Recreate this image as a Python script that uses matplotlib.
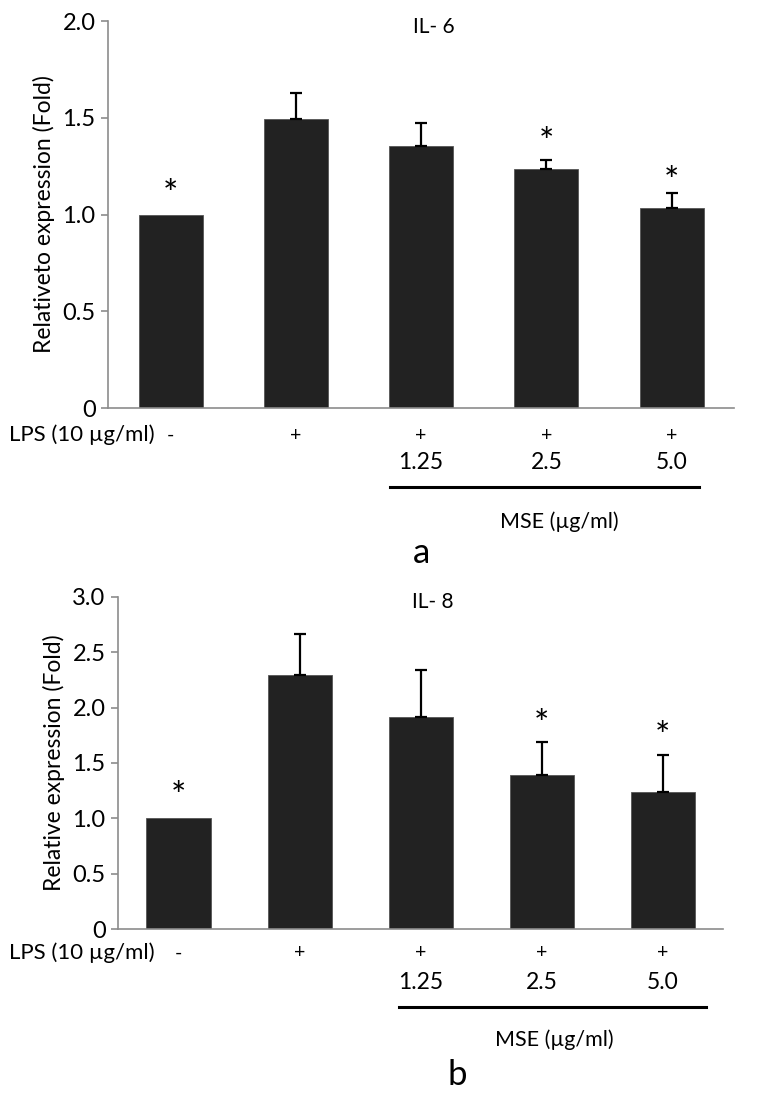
import matplotlib.pyplot as plt

plt.rcParams['font.family'] = ['Lato', 'DejaVu Sans']

# data
lps_marks = ['-', '+', '+', '+', '+']
mse_doses = ['', '', '1.25', '2.5', '5.0']

il6_mean = [1.0, 1.495, 1.355, 1.237, 1.035]
il6_err = [0.0, 0.135, 0.12, 0.045, 0.076]
il6_star = [1.15, None, None, 1.42, 1.22]   # y of the * marks

il8_mean = [1.0, 2.295, 1.918, 1.391, 1.24]
il8_err = [0.0, 0.37, 0.42, 0.30, 0.33]
il8_star = [1.285, None, None, 1.93, 1.82]

BAR = '#222222'
SPINE = '#8c8c8c'

fig = plt.figure(figsize=(7.75, 11.01), dpi=100)


def draw_panel(rect, mean, err, star, ymax, step, ylabel, title, letter, width,
               rows, line_x):
    ax = fig.add_axes(rect)
    x = list(range(len(mean)))
    ax.bar(x, mean, width=width, color=BAR, edgecolor='#555555', linewidth=0.6)
    errx = [xi for xi, e in zip(x, err) if e > 0]
    erry = [m for m, e in zip(mean, err) if e > 0]
    erre = [e for e in err if e > 0]
    ax.errorbar(errx, erry, yerr=[[0] * len(erre), erre], fmt='none',
                ecolor='black', elinewidth=1.6, capsize=4, capthick=1.6)
    # asterisk glyph sits ~15pt above its baseline, shift so its middle lands on s
    for xi, s in zip(x, star):
        if s is not None:
            ax.annotate('*', xy=(xi, s), xytext=(0, -15),
                        textcoords='offset points', ha='center',
                        va='baseline', fontsize=26)

    ax.set_xlim(-0.5, 4.5)
    ax.set_ylim(0, ymax)
    ticks = [i * step for i in range(int(round(ymax / step)) + 1)]
    ax.set_yticks(ticks)
    ax.set_yticklabels(['0'] + [f'{t:.1f}' for t in ticks[1:]])
    ax.set_xticks([])
    for side in ['top', 'right']:
        ax.spines[side].set_visible(False)
    for side in ['left', 'bottom']:
        ax.spines[side].set_color(SPINE)
        ax.spines[side].set_linewidth(1.2)
    ax.tick_params(axis='y', colors=SPINE, labelcolor='black', labelsize=17,
                   length=5, width=1.2, pad=4)
    ax.set_ylabel(ylabel, fontsize=16.5, labelpad=5)
    ax.text(2.1, ymax * 0.985, title, ha='center', va='center', fontsize=15)

    tr = ax.get_xaxis_transform()
    y_lps, y_dose, y_line, y_mse, y_letter, lps_x = rows
    for xi, mk, d in zip(x, lps_marks, mse_doses):
        ax.text(xi, y_lps, mk, transform=tr, ha='center', va='center',
                fontsize=14, clip_on=False)
        if d:
            ax.text(xi, y_dose, d, transform=tr, ha='center', va='center',
                    fontsize=16.5, clip_on=False)
    ax.plot(line_x, [y_line, y_line], transform=tr, color='black',
            linewidth=2.2, clip_on=False)
    ax.text(3.1, y_mse, 'MSE (µg/ml)', transform=tr, ha='center', va='center',
            fontsize=15.5, clip_on=False)
    ax.text(letter[0], y_letter, letter[1], transform=tr, ha='center',
            va='center', fontsize=25, clip_on=False)
    ax.text(lps_x, y_lps, 'LPS (10 µg/ml)', transform=tr, ha='right',
            va='center', fontsize=16, clip_on=False)
    return ax


draw_panel([0.1394, 0.6294, 0.808, 0.3515], il6_mean, il6_err, il6_star,
           2.0, 0.5, 'Relativeto expression (Fold)', 'IL- 6', (2.0, 'a'),
           0.51, (-0.07, -0.142, -0.204, -0.295, -0.375, -0.13),
           [1.75, 4.22])
draw_panel([0.1523, 0.1562, 0.781, 0.3016], il8_mean, il8_err, il8_star,
           3.0, 0.5, 'Relative expression (Fold)', 'IL- 8', (2.3, 'b'),
           0.53, (-0.072, -0.160, -0.235, -0.334, -0.44, -0.2),
           [1.82, 4.36])

fig.savefig('out.png', dpi=100)
